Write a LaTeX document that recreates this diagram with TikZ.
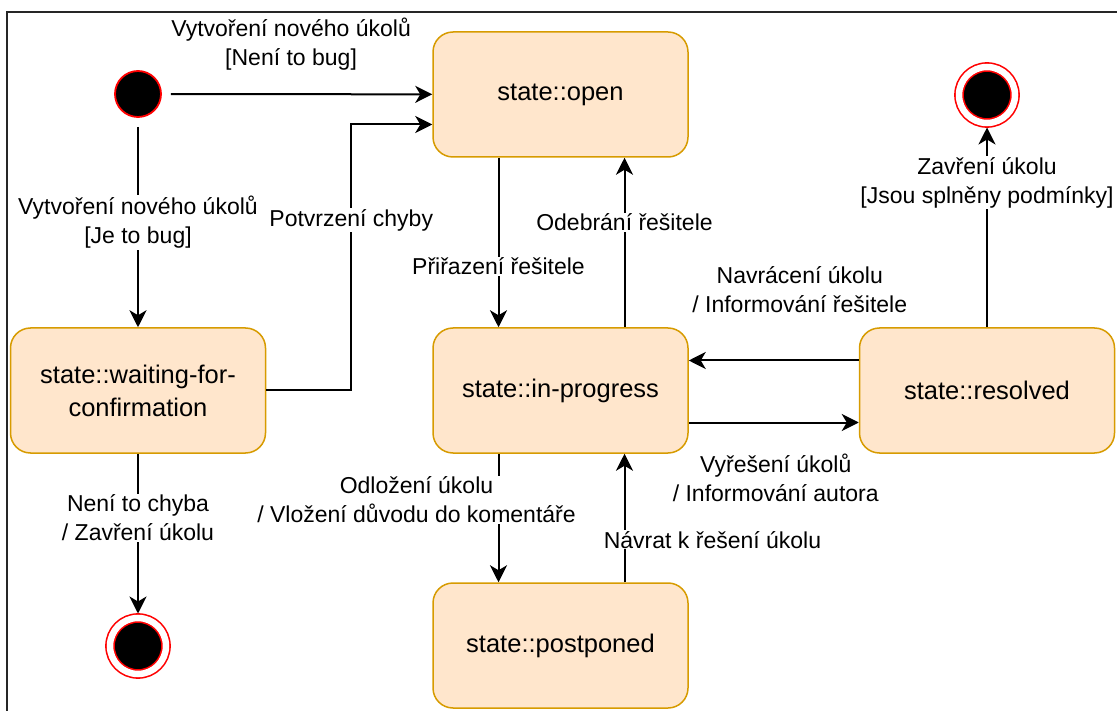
\documentclass[tikz,border=0pt]{standalone}
\usepackage{fontspec}
\setmainfont{Liberation Sans}
\usetikzlibrary{arrows.meta}
\definecolor{stfill}{HTML}{FFE6CC}
\definecolor{stdraw}{HTML}{D79B00}

\begin{document}
\begin{tikzpicture}[x=1pt, y=-1pt,
    state/.style={draw=stdraw, fill=stfill, line width=1.5pt, rounded corners=20pt, minimum width=255pt, minimum height=125pt, align=center, font=\fontsize{25.5}{33}\selectfont},
    init/.style={circle, draw=red, fill=black, line width=1.8pt, minimum size=46pt, inner sep=0pt},
    final/.style={circle, draw=red, fill=black, line width=1.6pt, double=white, double distance=6.5pt, minimum size=56pt, inner sep=0pt, outer sep=4.5pt},
    lbl/.style={fill=white, align=center, inner sep=1pt, font=\fontsize{23}{29}\selectfont},
    arr/.style={-{Stealth[length=17pt, width=17pt, inset=5pt]}, line width=2pt}]
    \useasboundingbox (0, 0) rectangle (1117, 711);
    \draw[line width=1.2pt, black!85] (7, 711) -- (7, 12) -- (1117, 12);

    \node[init] (start) at (138, 94) {};
    \node[state] (open) at (560.5, 94.5) {state::open};
    \node[final] (endtop) at (987, 95) {};
    \node[state] (waiting) at (138, 390.5) {state::waiting-for-\\confirmation};
    \node[state] (progress) at (560.5, 390.5) {state::in-progress};
    \node[state] (resolved) at (987, 390.5) {state::resolved};
    \node[final] (endbottom) at (138, 646) {};
    \node[state] (postponed) at (560.5, 645.5) {state::postponed};

    \draw[arr, shorten <=9pt] (start) -- (open) node[lbl, fill=none, midway, above=22pt, xshift=-6pt] {Vytvoření nového úkolů\\{[Není to bug]}};
    \draw[arr, shorten <=9pt] (start) -- (waiting) node[lbl, midway] {Vytvoření nového úkolů\\{[Je to bug]}};
    \draw[arr] (waiting.east) -- ++(85, 0) |- node[lbl, pos=0.32] {Potvrzení chyby} ([yshift=-30pt]open.west);
    \draw[arr] ([xshift=-62pt]open.south) -- ([xshift=-62pt]progress.north) node[lbl, pos=0.64] {Přiřazení řešitele};
    \draw[arr] ([xshift=64pt]progress.north) -- ([xshift=64pt]open.south) node[lbl, pos=0.62] {Odebrání řešitele};
    \draw[arr] ([yshift=30pt]resolved.west) -- ([yshift=30pt]progress.east) node[lbl, fill=none, midway, above=46pt, xshift=26pt] {Navrácení úkolu\\/ Informování řešitele};
    \draw[arr] ([yshift=-32pt]progress.east) -- ([yshift=-32pt]resolved.west) node[lbl, fill=none, midway, below=29pt, xshift=2pt] {Vyřešení úkolů\\/ Informování autora};
    \draw[arr] (resolved) -- (endtop) node[lbl, pos=0.725] {Zavření úkolu\\{[Jsou splněny podmínky]}};
    \draw[arr] (waiting) -- (endbottom) node[lbl, pos=0.4] {Není to chyba\\/ Zavření úkolu};
    \draw[arr] ([xshift=-62pt]progress.south) -- ([xshift=-62pt]postponed.north) node[lbl, pos=0.36, xshift=-82pt] {Odložení úkolu\\/ Vložení důvodu do komentáře};
    \draw[arr] ([xshift=64pt]postponed.north) -- ([xshift=64pt]progress.south) node[lbl, pos=0.33, xshift=88pt] {Návrat k řešení úkolu};
\end{tikzpicture}
\end{document}
